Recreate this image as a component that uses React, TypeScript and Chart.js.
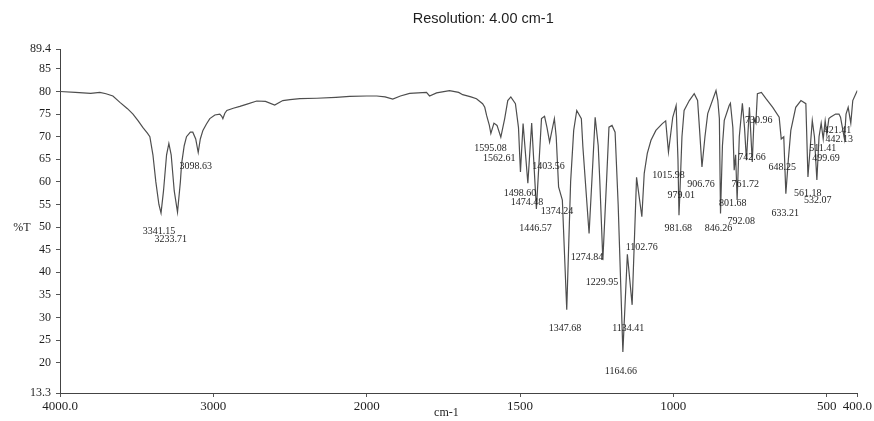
import React, { useEffect, useRef } from "react";
import { Chart, registerables } from "chart.js";

Chart.register(...registerables);

// Spectrum (wavenumber cm-1, %T)
const wavenumbers = [
  4000, 3900, 3800, 3740, 3700, 3655, 3609, 3560, 3524, 3490, 3459, 3430, 3414, 3394, 3375, 3355,
  3341.15, 3325, 3305, 3290, 3275, 3255, 3233.71, 3215, 3207, 3190, 3175, 3150, 3134, 3115, 3098.63,
  3085, 3068, 3045, 3023, 2990, 2958, 2945, 2938, 2925, 2912, 2870, 2827, 2780, 2717, 2660, 2600,
  2547, 2500, 2436, 2326, 2200, 2111, 2000, 1967, 1940, 1915, 1890, 1860, 1805, 1795, 1772, 1730,
  1700, 1687, 1660, 1642, 1622, 1615, 1609, 1600, 1595.08, 1585, 1575, 1562.61, 1550, 1540, 1530,
  1515, 1505, 1498.6, 1490, 1474.48, 1462, 1446.57, 1430, 1420, 1412, 1403.56, 1388, 1382, 1374.24,
  1362, 1347.68, 1335, 1325, 1315, 1300, 1295, 1274.84, 1262, 1255, 1245, 1240, 1229.95, 1218, 1210,
  1200, 1190, 1180, 1164.66, 1150, 1134.41, 1120, 1102.76, 1095, 1085, 1073, 1057, 1036, 1025,
  1015.98, 1002, 991, 985, 981.68, 979.01, 972, 965, 948, 932, 921, 915, 906.76, 897, 888, 861, 855,
  850, 846.26, 840, 834, 818, 814, 806, 801.68, 797, 792.08, 785, 775, 768, 761.72, 752, 742.66, 737,
  730.96, 726, 713, 698, 676, 655, 648.25, 640, 633.21, 625, 617, 601, 584, 568, 561.18, 547, 540,
  532.07, 525, 518, 511.41, 505, 499.69, 493, 488, 471, 460, 455, 442.13, 437, 430, 421.41, 415, 405, 400,
];
const transmittance = [
  80.0, 79.8, 79.6, 79.8, 79.5, 79.0, 77.6, 76.2, 75.0, 73.5, 72.0, 70.8, 70.0, 66.0, 60.0, 55.0,
  53.1, 58.0, 66.0, 68.5, 66.0, 58.0, 53.3, 60.0, 64.0, 68.0, 70.0, 71.0, 71.0, 69.5, 66.5,
  69.5, 71.4, 72.8, 74.0, 74.8, 75.0, 74.5, 74.0, 75.2, 75.8, 76.3, 76.7, 77.2, 77.9, 77.8, 77.0,
  78.0, 78.2, 78.4, 78.5, 78.7, 78.9, 79.0, 79.0, 78.8, 78.3, 79.0, 79.6, 79.8, 79.0, 79.7, 80.2,
  79.8, 79.3, 78.8, 78.4, 77.3, 76.5, 74.7, 72.5, 70.7, 73.0, 72.5, 69.9, 74.0, 78.0, 78.8,
  77.3, 72.0, 62.2, 72.9, 59.7, 73.0, 54.0, 74.0, 74.5, 72.0, 68.8, 74.0, 70.0, 58.9,
  56.0, 31.7, 60.0, 71.4, 75.8, 74.0, 67.7, 48.6, 65.0, 74.3, 68.0, 60.4, 42.7, 60.0, 72.1,
  72.5, 71.0, 55.0, 22.4, 44.0, 32.8, 61.0, 52.3, 61.9, 66.3, 69.2, 71.4, 72.9, 73.5,
  66.6, 74.3, 76.9, 65.0, 52.6, 57.0, 70.0, 75.8, 78.0, 79.5, 78.0, 72.0, 63.3, 70.0, 75.1, 80.2, 78.0,
  74.0, 53.0, 68.0, 73.6, 76.9, 77.4, 72.0, 62.6, 66.0, 56.0, 70.0, 77.4, 72.0, 64.8, 76.5, 64.4, 74.0,
  73.0, 79.5, 79.8, 78.4, 76.5, 74.3, 69.5, 70.0, 57.4, 65.0, 71.4, 76.5, 78.0, 77.3, 61.1, 73.6, 70.0,
  60.4, 70.0, 73.0, 69.5, 73.5, 70.5, 74.0, 74.3, 75.0, 75.0, 74.3, 69.5, 75.0, 76.5, 73.0, 78.0, 79.5, 80.2,
];

// Peak annotations (text, anchor wavenumber, anchor %T)
const peakLabels = [
  "3341.15", "3233.71", "3098.63", "1595.08", "1562.61", "1403.56", "1498.60", "1474.48", "1374.24",
  "1446.57", "1274.84", "1229.95", "1102.76", "1347.68", "1134.41", "1164.66", "1015.98", "979.01",
  "906.76", "981.68", "846.26", "801.68", "792.08", "761.72", "742.66", "730.96", "648.25", "633.21",
  "561.18", "532.07", "511.41", "499.69", "421.41", "442.13",
];
const peakLabelWn = [
  3355, 3277, 3114, 1596, 1568, 1407, 1500, 1477, 1379.5,
  1449.5, 1282, 1233, 1103, 1353, 1147, 1171, 1016, 974,
  910, 984, 853, 806, 778.5, 765.5, 744, 721.5, 645, 635,
  562, 529, 513, 502, 465, 459,
];
const peakLabelT = [
  49.1, 47.3, 63.4, 67.4, 65.2, 63.4, 57.5, 55.5, 53.5,
  49.8, 43.4, 37.8, 45.6, 27.7, 27.7, 18.0, 61.5, 57.0,
  59.5, 49.8, 49.8, 55.3, 51.3, 59.5, 65.4, 73.6, 63.2, 53.0,
  57.5, 55.9, 67.4, 65.2, 71.4, 69.4,
];

const xTickValues = [4000, 3000, 2000, 1500, 1000, 500, 400];
const xTickLabels = ["4000.0", "3000", "2000", "1500", "1000", "500", "400.0"];
const yTickValues = [13.3, 20, 25, 30, 35, 40, 45, 50, 55, 60, 65, 70, 75, 80, 85, 89.4];
const yTickLabels = ["13.3", "20", "25", "30", "35", "40", "45", "50", "55", "60", "65", "70", "75", "80", "85", "89.4"];

const titleText = "Resolution: 4.00 cm-1";
const yAxisTitle = "%T";
const xAxisTitle = "cm-1";

// Spectrometer axis: scale expands 2x below 2000 cm-1
const BREAK = 2000;
const toAxis = (w: number) => (w >= BREAK ? 4000 - w : 2000 + 2 * (BREAK - w));

const SERIF = "'Liberation Serif', 'Times New Roman', serif";

const textPlugin = {
  id: "irText",
  afterDraw(chart: any) {
    const ctx = chart.ctx;
    const xs = chart.scales.x;
    const ys = chart.scales.y;
    ctx.save();
    ctx.fillStyle = "#1e1e1e";
    ctx.textAlign = "center";
    ctx.textBaseline = "middle";
    ctx.font = "14.5px 'Liberation Sans', Arial, sans-serif";
    ctx.fillText(titleText, xs.getPixelForValue(toAxis(1620)), 19);
    ctx.font = `12px ${SERIF}`;
    ctx.fillText(yAxisTitle, 22, ys.getPixelForValue(50) + 1);
    ctx.fillText(xAxisTitle, xs.getPixelForValue(toAxis(1740)), 413);
    ctx.font = `10px ${SERIF}`;
    peakLabels.forEach((t, i) => {
      ctx.fillText(t, xs.getPixelForValue(toAxis(peakLabelWn[i])), ys.getPixelForValue(peakLabelT[i]));
    });
    ctx.restore();
  },
};

export default function App() {
  const ref = useRef<HTMLCanvasElement | null>(null);
  useEffect(() => {
    if (!ref.current) return;
    const chart = new Chart(ref.current, {
      type: "line",
      data: {
        datasets: [
          {
            data: wavenumbers.map((w, i) => ({ x: toAxis(w), y: transmittance[i] })),
            borderColor: "#4e4e4e",
            borderWidth: 1.2,
            pointRadius: 0,
            tension: 0,
            fill: false,
          },
        ],
      },
      options: {
        responsive: false,
        animation: false,
        layout: { padding: { top: 49, right: 16, left: 0, bottom: 0 } },
        plugins: { legend: { display: false }, tooltip: { enabled: false }, title: { display: false } },
        scales: {
          x: {
            type: "linear",
            min: 0,
            max: toAxis(400),
            afterBuildTicks: (s: any) => {
              s.ticks = xTickValues.map((v) => ({ value: toAxis(v) }));
            },
            afterFit: (s: any) => {
              s.height = 28;
            },
            ticks: {
              autoSkip: false,
              maxRotation: 0,
              padding: 2,
              color: "#1e1e1e",
              font: { family: SERIF, size: 13 },
              callback: (_v: any, i: number) => xTickLabels[i],
            },
            grid: { drawOnChartArea: false, drawTicks: true, tickLength: 4, color: "#555" },
            border: { display: true, color: "#444", width: 1 },
          },
          y: {
            type: "linear",
            min: 13.3,
            max: 89.4,
            afterBuildTicks: (s: any) => {
              s.ticks = yTickValues.map((v) => ({ value: v }));
            },
            afterFit: (s: any) => {
              s.width = 60;
            },
            ticks: {
              autoSkip: false,
              padding: 5,
              color: "#1e1e1e",
              font: { family: SERIF, size: 12 },
              callback: (_v: any, i: number) => yTickLabels[i],
            },
            grid: { drawOnChartArea: false, drawTicks: true, tickLength: 4, color: "#555" },
            border: { display: true, color: "#444", width: 1 },
          },
        },
      },
      plugins: [textPlugin],
    });
    return () => chart.destroy();
  }, []);
  return (
    <div style={{ position: "absolute", left: 0, top: 0, width: 874, height: 421, background: "#fff" }}>
      <canvas ref={ref} width={874} height={421} style={{ display: "block" }} />
    </div>
  );
}
